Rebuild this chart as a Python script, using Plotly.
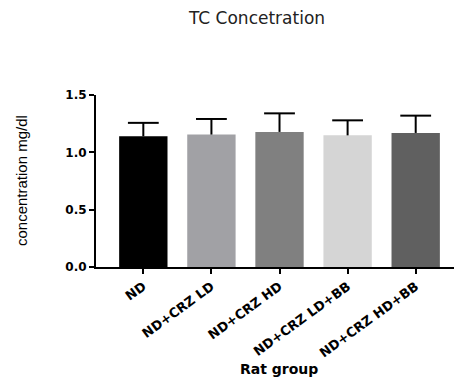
import plotly.graph_objects as go

categories = ["ND", "ND+CRZ LD", "ND+CRZ HD", "ND+CRZ LD+BB", "ND+CRZ HD+BB"]
means = [1.14, 1.155, 1.178, 1.148, 1.169]
sems = [0.117, 0.136, 0.162, 0.131, 0.151]
bar_colors = ["#000000", "#a1a1a5", "#808080", "#d5d5d5", "#606060"]
y_ticks = [0.0, 0.5, 1.0, 1.5]
y_tick_labels = ["0.0", "0.5", "1.0", "1.5"]

tops = [m + s for m, s in zip(means, sems)]

# page has an 8px body margin, so the figure is drawn 8px in from the corner
W, H = 454, 371

fig = go.Figure()
fig.add_trace(go.Bar(
    x=categories, y=means, width=0.71,
    marker=dict(color=bar_colors, line=dict(width=0)),
    showlegend=False, hoverinfo="skip",
))
fig.add_trace(go.Scatter(
    x=categories, y=tops, mode="markers",
    marker=dict(symbol="line-ew", size=22, color="black",
                line=dict(width=2, color="black")),
    error_y=dict(type="data", symmetric=False, array=[0] * len(sems),
                 arrayminus=sems, width=0, thickness=2, color="black"),
    showlegend=False, hoverinfo="skip", cliponaxis=False,
))

tickfont = dict(family="DejaVu Sans", size=12, color="black", weight="bold")
xtickfont = dict(family="DejaVu Sans", size=13, color="black", weight="bold")

fig.update_layout(
    width=W, height=H,
    margin=dict(l=88, r=0, t=87, b=112, autoexpand=False),
    plot_bgcolor="white", paper_bgcolor="white",
    title=dict(text="TC Concetration", xref="container", yref="container",
               x=249 / W, y=1 - 10 / H, xanchor="center", yanchor="middle",
               automargin=False,
               font=dict(family="DejaVu Sans", size=17, color="#222222")),
    xaxis=dict(
        range=[-0.695, 4.68], showline=True, linecolor="black", linewidth=2,
        ticks="outside", ticklen=5, tickwidth=2, tickcolor="black",
        tickangle=-36, tickfont=xtickfont, showgrid=False, zeroline=False,
        fixedrange=True, automargin=False,
    ),
    yaxis=dict(
        range=[0, 1.5], tickvals=y_ticks, ticktext=y_tick_labels,
        showline=True, linecolor="black", linewidth=2,
        ticks="outside", ticklen=5, tickwidth=2, tickcolor="black",
        tickfont=tickfont, showgrid=False, zeroline=False, fixedrange=True,
        automargin=False,
    ),
    annotations=[
        dict(text="concentration mg/dl", xref="paper", yref="paper",
             x=(21 - 96) / 366, y=0.5, textangle=-90, showarrow=False,
             xanchor="center", yanchor="middle",
             font=dict(family="Arial, Liberation Sans", size=15, color="black")),
        dict(text="Rat group", xref="paper", yref="paper",
             x=0.5, y=(267 - 369) / 172, showarrow=False,
             xanchor="center", yanchor="middle",
             font=dict(family="DejaVu Sans", size=14, color="black",
                       weight="bold")),
    ],
)

fig.write_html("out.html")
